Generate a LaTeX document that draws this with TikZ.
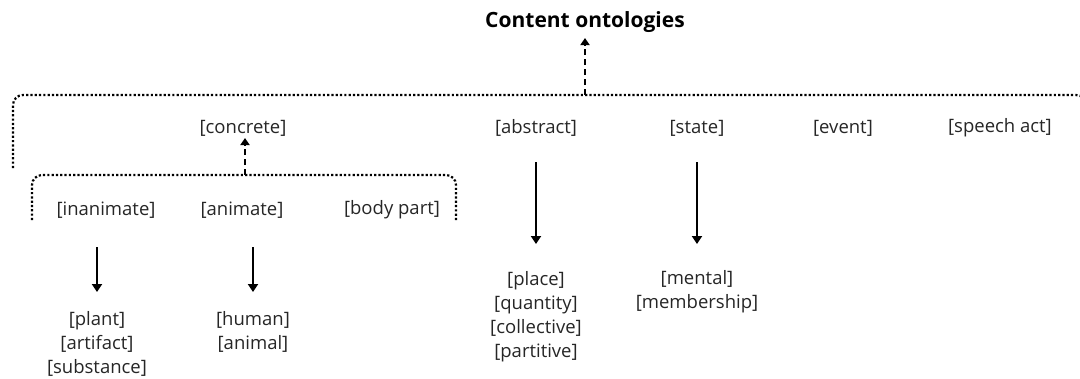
\documentclass[tikz,border=0pt]{standalone}
\usepackage{fontspec}
\setmainfont{Open Sans}
\usetikzlibrary{arrows.meta}
\begin{document}
\begin{tikzpicture}[x=1pt,y=-1pt,
  lbl/.style={font=\fontsize{18.5}{24}\selectfont, inner sep=0pt, align=center, text=black!85},
  ttl/.style={font=\fontsize{21}{24}\selectfont\bfseries, inner sep=0pt},
  dotbr/.style={line width=2.2pt, dash pattern=on 2.2pt off 2.1pt, rounded corners=10pt},
  dasharr/.style={line width=2.4pt, dash pattern=on 6pt off 4pt, -{Triangle[width=9pt,length=7pt]}},
  solarr/.style={line width=2pt, -{Triangle[width=10pt,length=8pt]}}
]
\useasboundingbox (0,0) rectangle (1080,378);
\fill[white] (0,0) rectangle (1080,378);
\clip (0,0) rectangle (1080,378);

% title
\node[ttl] (title) at (585,22) {Content ontologies};

% top bracket
\draw[dotbr] (13,168) -- (13,95) -- (1086,95) -- (1086,168);
\coordinate (topb) at (585,95);
\coordinate (titlein) at (585,38);
\draw[dasharr] (topb) -- (titlein);

% level 2
\node[lbl] (concrete) at (243,128) {[concrete]};
\node[lbl] (abstract) at (536,128) {[abstract]};
\node[lbl] (state) at (697,128) {[state]};
\node[lbl] (event) at (843,128) {[event]};
\node[lbl] (speech) at (1000,128) {[speech act]};

% inner bracket
\draw[dotbr] (32,220) -- (32,175) -- (456,175) -- (456,220);
\coordinate (innb) at (245,175);
\coordinate (concin) at (245,138);
\draw[dasharr] (innb) -- (concin);

% level 3
\node[lbl] (inanimate) at (106,210) {[inanimate]};
\node[lbl] (animate) at (242,210) {[animate]};
\node[lbl] (bodypart) at (392,210) {[body part]};

% leaves
\node[lbl] (inleaves) at (97,344) {{[plant]}\\{[artifact]}\\{[substance]}};
\node[lbl] (anleaves) at (253,332) {{[human]}\\{[animal]}};
\node[lbl] (ableaves) at (536,317) {{[place]}\\{[quantity]}\\{[collective]}\\{[partitive]}};
\node[lbl] (stleaves) at (697,292) {{[mental]}\\{[membership]}};

% solid arrows
\coordinate (a1s) at (97,247);
\coordinate (a1e) at (97,292);
\coordinate (a2s) at (253,247);
\coordinate (a2e) at (253,292);
\coordinate (a3s) at (536,162);
\coordinate (a3e) at (536,244);
\coordinate (a4s) at (697,162);
\coordinate (a4e) at (697,244);
\draw[solarr] (a1s) -- (a1e);
\draw[solarr] (a2s) -- (a2e);
\draw[solarr] (a3s) -- (a3e);
\draw[solarr] (a4s) -- (a4e);
\end{tikzpicture}
\end{document}
